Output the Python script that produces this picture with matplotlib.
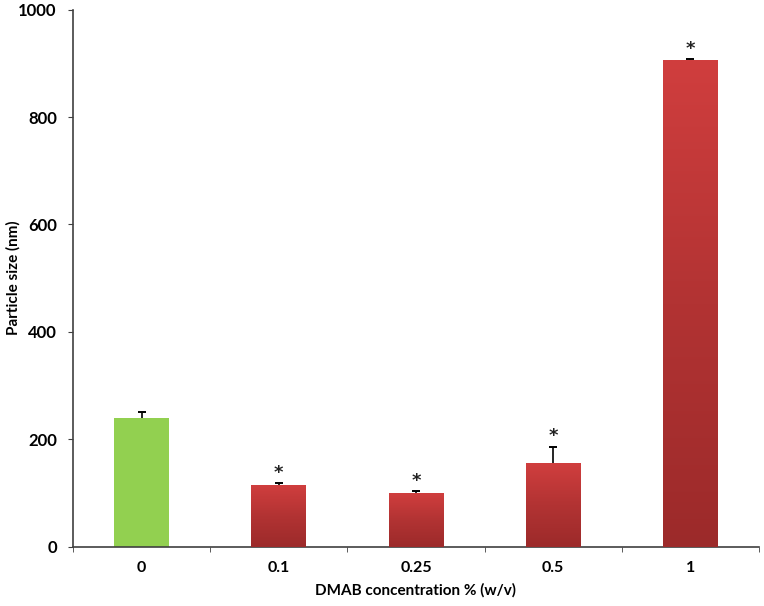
import matplotlib
matplotlib.use("Agg")
import matplotlib.pyplot as plt
import numpy as np
from matplotlib.colors import LinearSegmentedColormap

categories = ["0", "0.1", "0.25", "0.5", "1"]
values = [240, 115, 100, 156, 906]
errors = [10, 3, 3, 30, 2]
significant = [False, True, True, True, True]

plt.rcParams['font.family'] = ['Lato', 'DejaVu Sans']

fig = plt.figure(figsize=(7.64, 6.06), dpi=100)
ax = fig.add_axes([0.0955, 0.098, 0.898, 0.886])

x = np.arange(len(categories))
colors = ['#92d050'] + ['#c83a3a'] * 4
bars = ax.bar(x, values, width=0.4, color=colors, zorder=2)

ax.set_xlim(-0.5, len(categories) - 0.5)
ax.set_ylim(0, 1000)

# gradient for red bars
cmap = LinearSegmentedColormap.from_list('redgrad', ['#9c2a2a', '#b23333', '#d03e3e'])
grad = np.linspace(0, 1, 256).reshape(-1, 1)
for b, sig in zip(bars, significant):
    if not sig:
        continue
    x0, y0 = b.get_x(), b.get_y()
    w, h = b.get_width(), b.get_height()
    im = ax.imshow(grad, cmap=cmap, origin='lower', aspect='auto',
                   extent=[x0, x0 + w, y0, y0 + h], zorder=3)
    im.set_clip_path(b)

tops = np.array(values) + np.array(errors)
ax.vlines(x, values, tops, color='black', linewidth=1.2, zorder=4)
ax.plot(x, tops, linestyle='none', marker='_', markersize=5.5,
        markeredgewidth=1.4, color='black', zorder=4)

for xi, t, sig in zip(x, tops, significant):
    if sig:
        ax.annotate('*', (xi, t), xytext=(0, 1), textcoords='offset points',
                    ha='center', va='bottom', fontsize=13, fontweight='bold',
                    family='DejaVu Sans', color='#222222')

ax.set_xticks(x)
ax.set_xticklabels(categories)
ax.set_xticks(np.arange(-0.5, len(categories), 1.0), minor=True)
ax.tick_params(axis='x', which='major', length=0, pad=10, labelsize=11.5)
ax.tick_params(axis='x', which='minor', length=3.6, direction='out', color='#404040')
ax.tick_params(axis='y', length=3.6, pad=8, direction='out', color='#404040', labelsize=12)
ax.set_yticks([0, 200, 400, 600, 800, 1000])
for lab in ax.get_xticklabels() + ax.get_yticklabels():
    lab.set_fontweight('bold')

for s in ['top', 'right']:
    ax.spines[s].set_visible(False)
for s in ['left', 'bottom']:
    ax.spines[s].set_color('#404040')
    ax.spines[s].set_linewidth(1.2)

ax.set_xlabel('DMAB concentration % (w/v)', fontsize=11, fontweight='bold', labelpad=6)
ax.set_ylabel('Particle size (nm)', fontsize=11, fontweight='bold')
ax.yaxis.set_label_coords(-0.076, 0.5)

fig.savefig('out.png', dpi=100)
